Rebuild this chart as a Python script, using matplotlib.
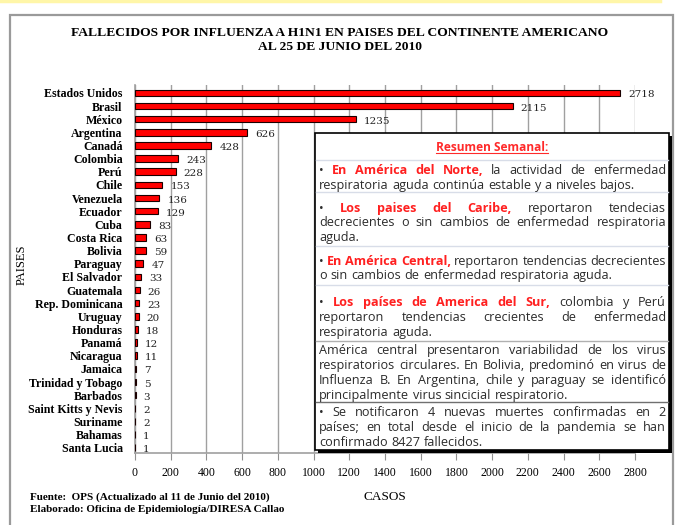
import matplotlib
matplotlib.use('Agg')
import matplotlib.pyplot as plt
import numpy as np
from matplotlib.patches import Rectangle
from matplotlib.lines import Line2D

# datos
paises = ['Estados Unidos', 'Brasil', 'México', 'Argentina', 'Canadá', 'Colombia', 'Perú',
          'Chile', 'Venezuela', 'Ecuador', 'Cuba', 'Costa Rica', 'Bolivia', 'Paraguay',
          'El Salvador', 'Guatemala', 'Rep. Dominicana', 'Uruguay', 'Honduras', 'Panamá',
          'Nicaragua', 'Jamaica', 'Trinidad y Tobago', 'Barbados', 'Saint Kitts y Nevis',
          'Suriname', 'Bahamas', 'Santa Lucia']
fallecidos = [2718, 2115, 1235, 626, 428, 243, 228, 153, 136, 129, 83, 63, 59, 47,
              33, 26, 23, 20, 18, 12, 11, 7, 5, 3, 2, 2, 1, 1]
xticks = list(range(0, 2801, 200))

titulo = 'FALLECIDOS POR INFLUENZA A H1N1 EN PAISES DEL CONTINENTE AMERICANO\nAL 25 DE JUNIO DEL 2010'
fuente = 'Fuente:  OPS (Actualizado al 11 de Junio del 2010)'
elaborado = 'Elaborado: Oficina de Epidemiología/DIRESA Callao'

# texto del recuadro: (texto, palabra roja desde, hasta, justificar)
resumen = [
    ('• En América del Norte, la actividad de enfermedad', 1, 5, True),
    ('respiratoria aguda continúa estable y a niveles bajos.', 0, 0, False),
    ('• Los paises del Caribe, reportaron tendecias', 1, 5, True),
    ('decrecientes o sin cambios de enfermedad respiratoria', 0, 0, True),
    ('aguda.', 0, 0, False),
    ('• En América Central, reportaron tendencias decrecientes', 1, 4, True),
    ('o sin cambios de enfermedad respiratoria aguda.', 0, 0, False),
    ('• Los países de America del Sur, colombia y Perú', 1, 7, True),
    ('reportaron tendencias crecientes de enfermedad', 0, 0, True),
    ('respiratoria aguda.', 0, 0, False),
    ('América central presentaron variabilidad de los virus', 0, 0, True),
    ('respiratorios circulares. En Bolivia, predominó en virus de', 0, 0, True),
    ('Influenza B. En Argentina, chile y paraguay se identificó', 0, 0, True),
    ('principalmente virus sincicial respiratorio.', 0, 0, False),
    ('• Se notificaron 4 nuevas muertes confirmadas en 2', 0, 0, True),
    ('países; en total desde el inicio de la pandemia se han', 0, 0, True),
    ('confirmado 8427 fallecidos.', 0, 0, False),
]
lineas_y = [171, 186, 209, 223, 238, 262, 276, 303, 318, 333, 351, 366, 381, 396, 413, 428, 443]
separadores = [(160, '#d8dde8'), (192, '#d8dde8'), (246, '#d8dde8'), (285, '#d8dde8'),
               (341, '#b0b0b0'), (402, '#707070')]

W, H = 680, 525
fig = plt.figure(figsize=(W / 100, H / 100), dpi=100)
serif = 'Liberation Serif'

def fx(px):
    return px / W

def fy(py):
    return 1 - py / H

# marco exterior
fig.add_artist(Line2D([0, 0.97], [fy(1), fy(1)], color='#fff6a8', lw=2.5))
fig.add_artist(Rectangle((fx(10), -0.05), fx(663), fy(15) + 0.05, fill=False,
                         ec='#9a9a9a', lw=1.6))

fig.text(0.5, fy(40), titulo, ha='center', va='center', family=serif,
         fontweight='bold', fontsize=9.7, linespacing=1.15)

ax = fig.add_axes([fx(135), fy(453), fx(500), fy(85) - fy(453)])
y = np.arange(len(paises))
ax.barh(y, fallecidos, height=0.5, color='#ff0000', edgecolor='#1a0000', lw=0.8, zorder=3)
for yi, v in zip(y, fallecidos):
    ax.text(v + 45, yi + 0.15, str(v), va='center', ha='left', family='DejaVu Serif',
            fontsize=7.5, color='#222222', zorder=4)
ax.set_yticks(y)
ax.set_yticklabels(paises, family=serif, fontweight='bold', fontsize=8.6)
ax.set_ylim(len(paises) - 0.6, -0.6)
ax.set_xlim(0, 2800)
ax.set_xticks(xticks)
ax.set_xticklabels([str(t) for t in xticks], family=serif, fontsize=8.5)
ax.tick_params(axis='y', length=0, pad=9)
ax.tick_params(axis='x', length=5, color='#909090', pad=5)
ax.grid(axis='x', color='#a0a0a0', lw=1, zorder=0)
for s in ['top', 'right']:
    ax.spines[s].set_visible(False)
for s in ['left', 'bottom']:
    ax.spines[s].set_color('#a0a0a0')
    ax.spines[s].set_linewidth(1.2)
ax.set_xlabel('CASOS', family=serif, fontsize=9.5, labelpad=9)
fig.text(fx(22), fy(265), 'PAISES', rotation=90, ha='center', va='center',
         family=serif, fontsize=9)

fig.text(fx(30), fy(497), fuente, family=serif, fontweight='bold', fontsize=8, va='center')
fig.text(fx(30), fy(510), elaborado, family=serif, fontweight='bold', fontsize=8, va='center')

# recuadro de resumen
bx0, by0, bx1, by1 = 315, 133, 669, 450
fig.add_artist(Rectangle((fx(bx0 + 3), fy(by1 + 3)), fx(bx1 - bx0), fy(by0) - fy(by1),
                         fc='black', ec='none', zorder=5))
fig.add_artist(Rectangle((fx(bx0), fy(by1)), fx(bx1 - bx0), fy(by0) - fy(by1),
                         fc='white', ec='black', lw=1.2, zorder=6))
for sy, c in separadores:
    fig.add_artist(Line2D([fx(bx0 + 1), fx(bx1 - 1)], [fy(sy), fy(sy)], color=c, lw=1, zorder=7))

box_font = 'Open Sans'
fs = 9.1
rend = fig.canvas.get_renderer()
h = fig.text(fx((bx0 + bx1) / 2), fy(151), 'Resumen Semanal:', ha='center', va='baseline',
             family=box_font, fontweight='bold', fontsize=8.6, color='#ff2a2a', zorder=8)
bb = h.get_window_extent(rend)
fig.add_artist(Line2D([fx(bb.x0), fx(bb.x1)], [fy(153), fy(153)], color='#ff2a2a', lw=0.8, zorder=8))

xl, xr = 319, 666
for (txt, r0, r1, just), ly in zip(resumen, lineas_y):
    palabras = txt.split(' ')
    objs = []
    for i, p in enumerate(palabras):
        rojo = r0 <= i < r1
        objs.append(fig.text(0, fy(ly + 3), p, va='baseline', ha='left', family=box_font,
                             fontsize=fs, fontweight='bold' if rojo else 'normal',
                             color='#ff2020' if rojo else '#2b2b2b', zorder=8))
    anchos = [o.get_window_extent(rend).width for o in objs]
    if just and len(objs) > 1:
        gap = (xr - xl - sum(anchos)) / (len(objs) - 1)
    else:
        gap = 3.6
    x = xl
    for o, a in zip(objs, anchos):
        o.set_x(fx(x))
        x += a + gap

fig.savefig('out.png', dpi=100)
